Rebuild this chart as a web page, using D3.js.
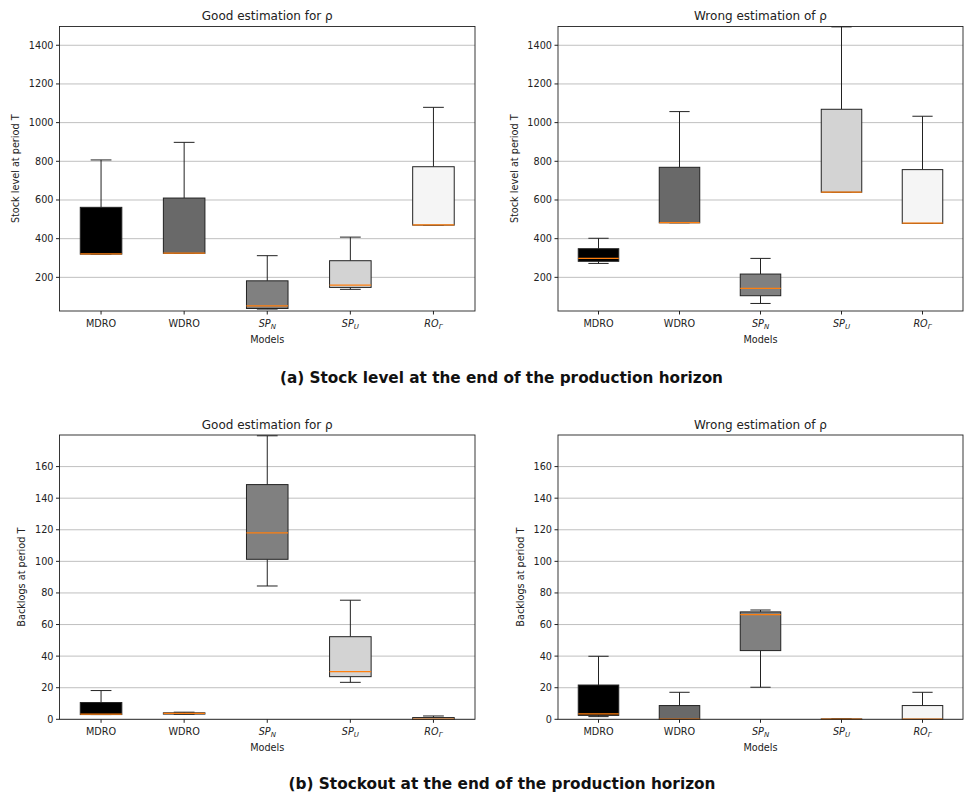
<!DOCTYPE html>
<html><head><meta charset="utf-8">
<script src="https://cdn.jsdelivr.net/npm/d3@7"></script>
<style>body{margin:0;background:#fff}svg{display:block}text{font-family:"DejaVu Sans",sans-serif;fill:#222}</style>
</head><body><svg id="c" width="964" height="797"></svg>
<script>
// Models (categories)
const models = [
  {base:"MDRO", sub:""},
  {base:"WDRO", sub:""},
  {base:"SP", sub:"N"},
  {base:"SP", sub:"U"},
  {base:"RO", sub:"Γ"}
];
const fills = ["#000000","#696969","#808080","#d3d3d3","#f5f5f5"];

// Box stats per model: [lowWhisker, q1, median, q3, highWhisker]
const stockGood = [
  [320, 320, 321, 562, 807],
  [324, 324, 325, 610, 898],
  [36, 39, 53, 182, 312],
  [138, 148, 160, 286, 408],
  [470, 470, 471, 772, 1079]
];
const stockWrong = [
  [272, 283, 298, 348, 402],
  [482, 482, 483, 769, 1057],
  [65, 105, 143, 217, 298],
  [640, 640, 641, 1069, 1495],
  [479, 479, 480, 757, 1033]
];
const backlogGood = [
  [3, 3, 3.3, 10.6, 18.2],
  [3.2, 3.3, 3.7, 4.1, 4.5],
  [84.4, 101.3, 118, 148.6, 179.5],
  [23.4, 27.0, 30.2, 52.3, 75.4],
  [0, 0, 0.2, 1.1, 2.1]
];
const backlogWrong = [
  [1.7, 2.5, 3.4, 21.7, 39.9],
  [0, 0, 0.2, 8.7, 17.1],
  [20.3, 43.5, 66.3, 68.0, 69.2],
  [0, 0, 0.1, 0.2, 0.2],
  [0, 0, 0.2, 8.7, 17.1]
];
const stockTicks = [200, 400, 600, 800, 1000, 1200, 1400];
const backlogTicks = [0, 20, 40, 60, 80, 100, 120, 140, 160];
const titles = ["Good estimation for ρ", "Wrong estimation of ρ"];
const captions = ["(a) Stock level at the end of the production horizon",
                  "(b) Stockout at the end of the production horizon"];

const svg = d3.select("#c");

function panel(opt){
  const {x0,x1,y0,y1,domain,ticks,data,title,ylabel,ylabX} = opt;
  const g = svg.append("g");
  const x = d3.scaleLinear().domain([0.5, 5.5]).range([x0, x1]);
  const y = d3.scaleLinear().domain(domain).range([y1, y0]);
  // grid
  g.selectAll("line.grid").data(ticks).join("line")
    .attr("x1", x0).attr("x2", x1)
    .attr("y1", d => y(d)).attr("y2", d => y(d))
    .attr("stroke", "#b0b0b0").attr("stroke-width", 0.8);
  const unit = x(1) - x(0);
  data.forEach((s, i) => {
    const cx = x(i + 1);
    const [lo, q1, med, q3, hi] = s;
    const bw = unit * 0.5, cw = unit * 0.25;
    const gg = g.append("g");
    gg.append("line").attr("x1", cx).attr("x2", cx).attr("y1", y(q3)).attr("y2", y(hi)).attr("stroke", "#222");
    gg.append("line").attr("x1", cx).attr("x2", cx).attr("y1", y(q1)).attr("y2", y(lo)).attr("stroke", "#222");
    gg.append("line").attr("x1", cx - cw/2).attr("x2", cx + cw/2).attr("y1", y(hi)).attr("y2", y(hi)).attr("stroke", "#222");
    gg.append("line").attr("x1", cx - cw/2).attr("x2", cx + cw/2).attr("y1", y(lo)).attr("y2", y(lo)).attr("stroke", "#222");
    gg.append("rect").attr("x", cx - bw/2).attr("width", bw)
      .attr("y", y(q3)).attr("height", Math.max(0, y(q1) - y(q3)))
      .attr("fill", fills[i]).attr("stroke", "#222").attr("stroke-width", 1);
    gg.append("line").attr("x1", cx - bw/2).attr("x2", cx + bw/2)
      .attr("y1", y(med)).attr("y2", y(med)).attr("stroke", "#ff7f0e").attr("stroke-width", 1.2);
  });
  g.append("rect").attr("x", x0).attr("y", y0).attr("width", x1 - x0).attr("height", y1 - y0)
    .attr("fill", "none").attr("stroke", "#222").attr("stroke-width", 0.9);
  const yt = g.selectAll("g.yt").data(ticks).join("g").attr("transform", d => `translate(${x0},${y(d)})`);
  yt.append("line").attr("x1", -3.5).attr("x2", 0).attr("stroke", "#222");
  yt.append("text").attr("x", -6).attr("dy", "0.35em").attr("text-anchor", "end")
    .attr("font-size", 9.7).text(d => d);
  const xt = g.selectAll("g.xt").data(models).join("g").attr("transform", (d, i) => `translate(${x(i + 1)},${y1})`);
  xt.append("line").attr("y1", 0).attr("y2", 3.5).attr("stroke", "#222");
  const tx = xt.append("text").attr("y", 15.5).attr("text-anchor", "middle").attr("font-size", 9.7);
  tx.each(function(d){
    const t = d3.select(this);
    if (d.sub) {
      t.append("tspan").attr("font-style", "italic").text(d.base);
      t.append("tspan").attr("font-style", "italic").attr("font-size", 7).attr("dy", 2.5).text(d.sub);
    } else t.text(d.base);
  });
  g.append("text").attr("x", (x0 + x1) / 2).attr("y", y1 + 31.5).attr("text-anchor", "middle")
    .attr("font-size", 9.7).text("Models");
  g.append("text").attr("x", (x0 + x1) / 2).attr("y", y0 - 6.5).attr("text-anchor", "middle")
    .attr("font-size", 12).text(title);
  g.append("text").attr("transform", `translate(${ylabX},${(y0 + y1) / 2}) rotate(-90)`)
    .attr("text-anchor", "middle").attr("dy", "0.35em").attr("font-size", 9.7).text(ylabel);
}

const L = [59.5, 475], R = [558, 963];
const A = [26.5, 311], B = [435, 719.3];
panel({x0:L[0], x1:L[1], y0:A[0], y1:A[1], domain:[26, 1497], ticks:stockTicks, data:stockGood,
       title:titles[0], ylabel:"Stock level at period T", ylabX:16});
panel({x0:R[0], x1:R[1], y0:A[0], y1:A[1], domain:[26, 1497], ticks:stockTicks, data:stockWrong,
       title:titles[1], ylabel:"Stock level at period T", ylabX:515});
panel({x0:L[0], x1:L[1], y0:B[0], y1:B[1], domain:[0, 180], ticks:backlogTicks, data:backlogGood,
       title:titles[0], ylabel:"Backlogs at period T", ylabX:22});
panel({x0:R[0], x1:R[1], y0:B[0], y1:B[1], domain:[0, 180], ticks:backlogTicks, data:backlogWrong,
       title:titles[1], ylabel:"Backlogs at period T", ylabX:521});

svg.append("text").attr("x", 501.5).attr("y", 382.5).attr("text-anchor", "middle")
  .style("font-family", "'DejaVu Sans Condensed','DejaVu Sans',sans-serif")
  .attr("font-size", 16.5).attr("font-weight", "bold").attr("textLength", 443).attr("lengthAdjust", "spacingAndGlyphs")
  .style("fill", "#111").text(captions[0]);
svg.append("text").attr("x", 502).attr("y", 789).attr("text-anchor", "middle")
  .style("font-family", "'DejaVu Sans Condensed','DejaVu Sans',sans-serif")
  .attr("font-size", 16.5).attr("font-weight", "bold").attr("textLength", 427).attr("lengthAdjust", "spacingAndGlyphs")
  .style("fill", "#111").text(captions[1]);
</script></body></html>
